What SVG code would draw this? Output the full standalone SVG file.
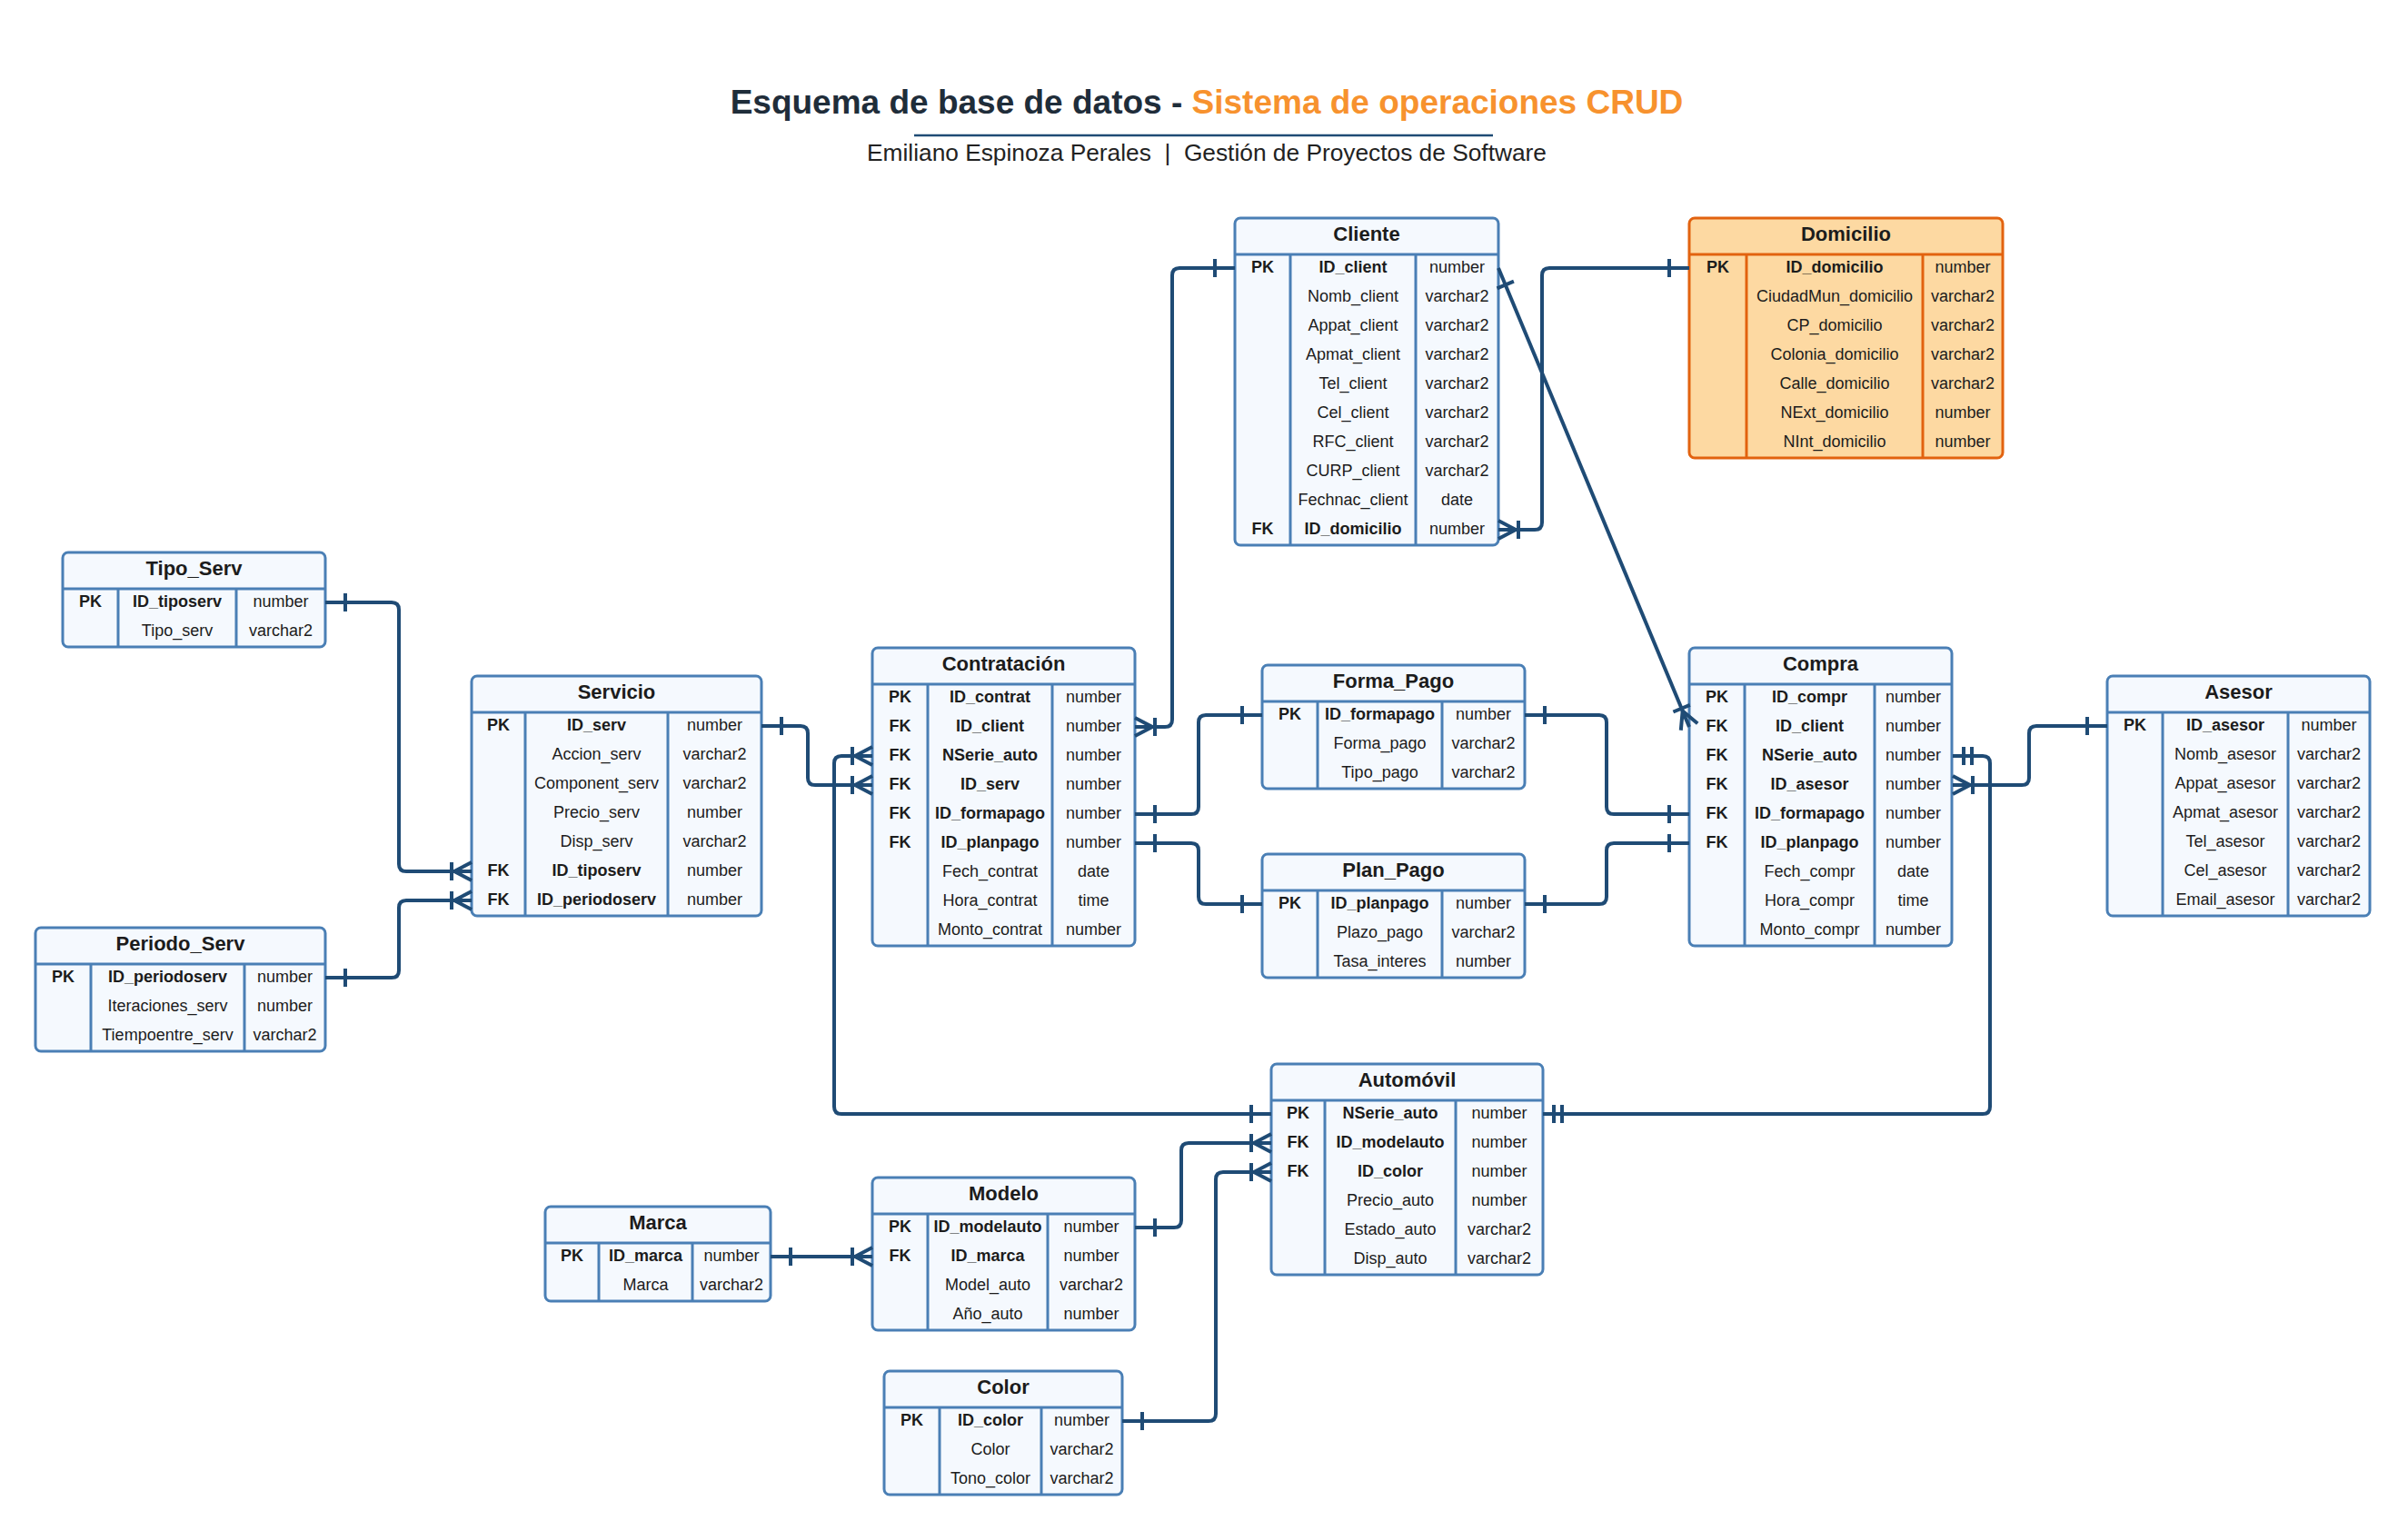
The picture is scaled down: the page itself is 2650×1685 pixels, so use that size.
<svg xmlns="http://www.w3.org/2000/svg" width="2650" height="1685" viewBox="0 0 2650 1685">
<style>
.bg{fill:#ffffff}
.box{fill:#f5f9fe;stroke:#4a7fb5;stroke-width:3}
.sep{stroke:#4a7fb5;stroke-width:3}
.dom .box{fill:#fdd9a2;stroke:#e2620f}
.dom .sep{stroke:#e2620f}
text{font-family:"Liberation Sans",Arial,sans-serif;fill:#1c1c1c}
.hd{font-size:22px;font-weight:bold;text-anchor:middle}
.k{font-size:18px;font-weight:bold;text-anchor:middle}
.b{font-size:18px;font-weight:bold;text-anchor:middle}
.n{font-size:18px;text-anchor:middle}
.cn{fill:none;stroke:#1f4b75;stroke-width:4;stroke-linejoin:round;stroke-linecap:butt}
.mk{fill:none;stroke:#1f4b75;stroke-width:4}
.title{font-size:37px;font-weight:bold;text-anchor:middle;fill:#1f2d3a}
.sub{font-size:26.3px;text-anchor:middle;fill:#222}
</style>
<rect class="bg" x="0" y="0" width="2650" height="1685"/>

<g id="title">
<text class="title" x="1328" y="125">Esquema de base de datos - <tspan fill="#f7922e">Sistema de operaciones CRUD</tspan></text>
<line x1="1006" y1="149" x2="1643" y2="149" stroke="#1f4b75" stroke-width="2.5"/>
<text class="sub" x="1328" y="177" xml:space="preserve">Emiliano Espinoza Perales  |  Gestión de Proyectos de Software</text>
</g>

<g id="cliente">
<rect class="box" x="1359" y="240" width="290" height="360" rx="6"/>
<line class="sep" x1="1359" y1="280" x2="1649" y2="280"/>
<line class="sep" x1="1420" y1="280" x2="1420" y2="600"/>
<line class="sep" x1="1558" y1="280" x2="1558" y2="600"/>
<text class="hd" x="1504" y="265">Cliente</text>
<text class="k" x="1389.5" y="300">PK</text><text class="b" x="1489" y="300">ID_client</text><text class="n" x="1603.5" y="300">number</text>
<text class="n" x="1489" y="332">Nomb_client</text><text class="n" x="1603.5" y="332">varchar2</text>
<text class="n" x="1489" y="364">Appat_client</text><text class="n" x="1603.5" y="364">varchar2</text>
<text class="n" x="1489" y="396">Apmat_client</text><text class="n" x="1603.5" y="396">varchar2</text>
<text class="n" x="1489" y="428">Tel_client</text><text class="n" x="1603.5" y="428">varchar2</text>
<text class="n" x="1489" y="460">Cel_client</text><text class="n" x="1603.5" y="460">varchar2</text>
<text class="n" x="1489" y="492">RFC_client</text><text class="n" x="1603.5" y="492">varchar2</text>
<text class="n" x="1489" y="524">CURP_client</text><text class="n" x="1603.5" y="524">varchar2</text>
<text class="n" x="1489" y="556">Fechnac_client</text><text class="n" x="1603.5" y="556">date</text>
<text class="k" x="1389.5" y="588">FK</text><text class="b" x="1489" y="588">ID_domicilio</text><text class="n" x="1603.5" y="588">number</text>
</g>

<g id="domicilio" class="dom">
<rect class="box" x="1859" y="240" width="345" height="264" rx="6"/>
<line class="sep" x1="1859" y1="280" x2="2204" y2="280"/>
<line class="sep" x1="1922" y1="280" x2="1922" y2="504"/>
<line class="sep" x1="2116" y1="280" x2="2116" y2="504"/>
<text class="hd" x="2031.5" y="265">Domicilio</text>
<text class="k" x="1890.5" y="300">PK</text><text class="b" x="2019" y="300">ID_domicilio</text><text class="n" x="2160" y="300">number</text>
<text class="n" x="2019" y="332">CiudadMun_domicilio</text><text class="n" x="2160" y="332">varchar2</text>
<text class="n" x="2019" y="364">CP_domicilio</text><text class="n" x="2160" y="364">varchar2</text>
<text class="n" x="2019" y="396">Colonia_domicilio</text><text class="n" x="2160" y="396">varchar2</text>
<text class="n" x="2019" y="428">Calle_domicilio</text><text class="n" x="2160" y="428">varchar2</text>
<text class="n" x="2019" y="460">NExt_domicilio</text><text class="n" x="2160" y="460">number</text>
<text class="n" x="2019" y="492">NInt_domicilio</text><text class="n" x="2160" y="492">number</text>
</g>

<g id="tipo_serv">
<rect class="box" x="69" y="608" width="289" height="104" rx="6"/>
<line class="sep" x1="69" y1="648" x2="358" y2="648"/>
<line class="sep" x1="130" y1="648" x2="130" y2="712"/>
<line class="sep" x1="260" y1="648" x2="260" y2="712"/>
<text class="hd" x="213.5" y="633">Tipo_Serv</text>
<text class="k" x="99.5" y="668">PK</text><text class="b" x="195" y="668">ID_tiposerv</text><text class="n" x="309" y="668">number</text>
<text class="n" x="195" y="700">Tipo_serv</text><text class="n" x="309" y="700">varchar2</text>
</g>

<g id="periodo_serv">
<rect class="box" x="39" y="1021" width="319" height="136" rx="6"/>
<line class="sep" x1="39" y1="1061" x2="358" y2="1061"/>
<line class="sep" x1="100" y1="1061" x2="100" y2="1157"/>
<line class="sep" x1="269" y1="1061" x2="269" y2="1157"/>
<text class="hd" x="198.5" y="1046">Periodo_Serv</text>
<text class="k" x="69.5" y="1081">PK</text><text class="b" x="184.5" y="1081">ID_periodoserv</text><text class="n" x="313.5" y="1081">number</text>
<text class="n" x="184.5" y="1113">Iteraciones_serv</text><text class="n" x="313.5" y="1113">number</text>
<text class="n" x="184.5" y="1145">Tiempoentre_serv</text><text class="n" x="313.5" y="1145">varchar2</text>
</g>

<g id="servicio">
<rect class="box" x="519" y="744" width="319" height="264" rx="6"/>
<line class="sep" x1="519" y1="784" x2="838" y2="784"/>
<line class="sep" x1="578" y1="784" x2="578" y2="1008"/>
<line class="sep" x1="735" y1="784" x2="735" y2="1008"/>
<text class="hd" x="678.5" y="769">Servicio</text>
<text class="k" x="548.5" y="804">PK</text><text class="b" x="656.5" y="804">ID_serv</text><text class="n" x="786.5" y="804">number</text>
<text class="n" x="656.5" y="836">Accion_serv</text><text class="n" x="786.5" y="836">varchar2</text>
<text class="n" x="656.5" y="868">Component_serv</text><text class="n" x="786.5" y="868">varchar2</text>
<text class="n" x="656.5" y="900">Precio_serv</text><text class="n" x="786.5" y="900">number</text>
<text class="n" x="656.5" y="932">Disp_serv</text><text class="n" x="786.5" y="932">varchar2</text>
<text class="k" x="548.5" y="964">FK</text><text class="b" x="656.5" y="964">ID_tiposerv</text><text class="n" x="786.5" y="964">number</text>
<text class="k" x="548.5" y="996">FK</text><text class="b" x="656.5" y="996">ID_periodoserv</text><text class="n" x="786.5" y="996">number</text>
</g>

<g id="contratacion">
<rect class="box" x="960" y="713" width="289" height="328" rx="6"/>
<line class="sep" x1="960" y1="753" x2="1249" y2="753"/>
<line class="sep" x1="1021" y1="753" x2="1021" y2="1041"/>
<line class="sep" x1="1158" y1="753" x2="1158" y2="1041"/>
<text class="hd" x="1104.5" y="738">Contratación</text>
<text class="k" x="990.5" y="773">PK</text><text class="b" x="1089.5" y="773">ID_contrat</text><text class="n" x="1203.5" y="773">number</text>
<text class="k" x="990.5" y="805">FK</text><text class="b" x="1089.5" y="805">ID_client</text><text class="n" x="1203.5" y="805">number</text>
<text class="k" x="990.5" y="837">FK</text><text class="b" x="1089.5" y="837">NSerie_auto</text><text class="n" x="1203.5" y="837">number</text>
<text class="k" x="990.5" y="869">FK</text><text class="b" x="1089.5" y="869">ID_serv</text><text class="n" x="1203.5" y="869">number</text>
<text class="k" x="990.5" y="901">FK</text><text class="b" x="1089.5" y="901">ID_formapago</text><text class="n" x="1203.5" y="901">number</text>
<text class="k" x="990.5" y="933">FK</text><text class="b" x="1089.5" y="933">ID_planpago</text><text class="n" x="1203.5" y="933">number</text>
<text class="n" x="1089.5" y="965">Fech_contrat</text><text class="n" x="1203.5" y="965">date</text>
<text class="n" x="1089.5" y="997">Hora_contrat</text><text class="n" x="1203.5" y="997">time</text>
<text class="n" x="1089.5" y="1029">Monto_contrat</text><text class="n" x="1203.5" y="1029">number</text>
</g>

<g id="forma_pago">
<rect class="box" x="1389" y="732" width="289" height="136" rx="6"/>
<line class="sep" x1="1389" y1="772" x2="1678" y2="772"/>
<line class="sep" x1="1450" y1="772" x2="1450" y2="868"/>
<line class="sep" x1="1587" y1="772" x2="1587" y2="868"/>
<text class="hd" x="1533.5" y="757">Forma_Pago</text>
<text class="k" x="1419.5" y="792">PK</text><text class="b" x="1518.5" y="792">ID_formapago</text><text class="n" x="1632.5" y="792">number</text>
<text class="n" x="1518.5" y="824">Forma_pago</text><text class="n" x="1632.5" y="824">varchar2</text>
<text class="n" x="1518.5" y="856">Tipo_pago</text><text class="n" x="1632.5" y="856">varchar2</text>
</g>

<g id="plan_pago">
<rect class="box" x="1389" y="940" width="289" height="136" rx="6"/>
<line class="sep" x1="1389" y1="980" x2="1678" y2="980"/>
<line class="sep" x1="1450" y1="980" x2="1450" y2="1076"/>
<line class="sep" x1="1587" y1="980" x2="1587" y2="1076"/>
<text class="hd" x="1533.5" y="965">Plan_Pago</text>
<text class="k" x="1419.5" y="1000">PK</text><text class="b" x="1518.5" y="1000">ID_planpago</text><text class="n" x="1632.5" y="1000">number</text>
<text class="n" x="1518.5" y="1032">Plazo_pago</text><text class="n" x="1632.5" y="1032">varchar2</text>
<text class="n" x="1518.5" y="1064">Tasa_interes</text><text class="n" x="1632.5" y="1064">number</text>
</g>

<g id="compra">
<rect class="box" x="1859" y="713" width="289" height="328" rx="6"/>
<line class="sep" x1="1859" y1="753" x2="2148" y2="753"/>
<line class="sep" x1="1920" y1="753" x2="1920" y2="1041"/>
<line class="sep" x1="2063" y1="753" x2="2063" y2="1041"/>
<text class="hd" x="2003.5" y="738">Compra</text>
<text class="k" x="1889.5" y="773">PK</text><text class="b" x="1991.5" y="773">ID_compr</text><text class="n" x="2105.5" y="773">number</text>
<text class="k" x="1889.5" y="805">FK</text><text class="b" x="1991.5" y="805">ID_client</text><text class="n" x="2105.5" y="805">number</text>
<text class="k" x="1889.5" y="837">FK</text><text class="b" x="1991.5" y="837">NSerie_auto</text><text class="n" x="2105.5" y="837">number</text>
<text class="k" x="1889.5" y="869">FK</text><text class="b" x="1991.5" y="869">ID_asesor</text><text class="n" x="2105.5" y="869">number</text>
<text class="k" x="1889.5" y="901">FK</text><text class="b" x="1991.5" y="901">ID_formapago</text><text class="n" x="2105.5" y="901">number</text>
<text class="k" x="1889.5" y="933">FK</text><text class="b" x="1991.5" y="933">ID_planpago</text><text class="n" x="2105.5" y="933">number</text>
<text class="n" x="1991.5" y="965">Fech_compr</text><text class="n" x="2105.5" y="965">date</text>
<text class="n" x="1991.5" y="997">Hora_compr</text><text class="n" x="2105.5" y="997">time</text>
<text class="n" x="1991.5" y="1029">Monto_compr</text><text class="n" x="2105.5" y="1029">number</text>
</g>

<g id="asesor">
<rect class="box" x="2319" y="744" width="289" height="264" rx="6"/>
<line class="sep" x1="2319" y1="784" x2="2608" y2="784"/>
<line class="sep" x1="2380" y1="784" x2="2380" y2="1008"/>
<line class="sep" x1="2518" y1="784" x2="2518" y2="1008"/>
<text class="hd" x="2463.5" y="769">Asesor</text>
<text class="k" x="2349.5" y="804">PK</text><text class="b" x="2449" y="804">ID_asesor</text><text class="n" x="2563" y="804">number</text>
<text class="n" x="2449" y="836">Nomb_asesor</text><text class="n" x="2563" y="836">varchar2</text>
<text class="n" x="2449" y="868">Appat_asesor</text><text class="n" x="2563" y="868">varchar2</text>
<text class="n" x="2449" y="900">Apmat_asesor</text><text class="n" x="2563" y="900">varchar2</text>
<text class="n" x="2449" y="932">Tel_asesor</text><text class="n" x="2563" y="932">varchar2</text>
<text class="n" x="2449" y="964">Cel_asesor</text><text class="n" x="2563" y="964">varchar2</text>
<text class="n" x="2449" y="996">Email_asesor</text><text class="n" x="2563" y="996">varchar2</text>
</g>

<g id="automovil">
<rect class="box" x="1399" y="1171" width="299" height="232" rx="6"/>
<line class="sep" x1="1399" y1="1211" x2="1698" y2="1211"/>
<line class="sep" x1="1458" y1="1211" x2="1458" y2="1403"/>
<line class="sep" x1="1602" y1="1211" x2="1602" y2="1403"/>
<text class="hd" x="1548.5" y="1196">Automóvil</text>
<text class="k" x="1428.5" y="1231">PK</text><text class="b" x="1530" y="1231">NSerie_auto</text><text class="n" x="1650" y="1231">number</text>
<text class="k" x="1428.5" y="1263">FK</text><text class="b" x="1530" y="1263">ID_modelauto</text><text class="n" x="1650" y="1263">number</text>
<text class="k" x="1428.5" y="1295">FK</text><text class="b" x="1530" y="1295">ID_color</text><text class="n" x="1650" y="1295">number</text>
<text class="n" x="1530" y="1327">Precio_auto</text><text class="n" x="1650" y="1327">number</text>
<text class="n" x="1530" y="1359">Estado_auto</text><text class="n" x="1650" y="1359">varchar2</text>
<text class="n" x="1530" y="1391">Disp_auto</text><text class="n" x="1650" y="1391">varchar2</text>
</g>

<g id="marca">
<rect class="box" x="600" y="1328" width="248" height="104" rx="6"/>
<line class="sep" x1="600" y1="1368" x2="848" y2="1368"/>
<line class="sep" x1="659" y1="1368" x2="659" y2="1432"/>
<line class="sep" x1="762" y1="1368" x2="762" y2="1432"/>
<text class="hd" x="724" y="1353">Marca</text>
<text class="k" x="629.5" y="1388">PK</text><text class="b" x="710.5" y="1388">ID_marca</text><text class="n" x="805" y="1388">number</text>
<text class="n" x="710.5" y="1420">Marca</text><text class="n" x="805" y="1420">varchar2</text>
</g>

<g id="modelo">
<rect class="box" x="960" y="1296" width="289" height="168" rx="6"/>
<line class="sep" x1="960" y1="1336" x2="1249" y2="1336"/>
<line class="sep" x1="1021" y1="1336" x2="1021" y2="1464"/>
<line class="sep" x1="1153" y1="1336" x2="1153" y2="1464"/>
<text class="hd" x="1104.5" y="1321">Modelo</text>
<text class="k" x="990.5" y="1356">PK</text><text class="b" x="1087" y="1356">ID_modelauto</text><text class="n" x="1201" y="1356">number</text>
<text class="k" x="990.5" y="1388">FK</text><text class="b" x="1087" y="1388">ID_marca</text><text class="n" x="1201" y="1388">number</text>
<text class="n" x="1087" y="1420">Model_auto</text><text class="n" x="1201" y="1420">varchar2</text>
<text class="n" x="1087" y="1452">Año_auto</text><text class="n" x="1201" y="1452">number</text>
</g>

<g id="color">
<rect class="box" x="973" y="1509" width="262" height="136" rx="6"/>
<line class="sep" x1="973" y1="1549" x2="1235" y2="1549"/>
<line class="sep" x1="1034" y1="1549" x2="1034" y2="1645"/>
<line class="sep" x1="1146" y1="1549" x2="1146" y2="1645"/>
<text class="hd" x="1104" y="1534">Color</text>
<text class="k" x="1003.5" y="1569">PK</text><text class="b" x="1090" y="1569">ID_color</text><text class="n" x="1190.5" y="1569">number</text>
<text class="n" x="1090" y="1601">Color</text><text class="n" x="1190.5" y="1601">varchar2</text>
<text class="n" x="1090" y="1633">Tono_color</text><text class="n" x="1190.5" y="1633">varchar2</text>
</g>

<g id="connectors">
<path class="cn" d="M1359,295 H1298 Q1290,295 1290,303 V792 Q1290,800 1282,800 H1249"/>
<path class="mk" d="M1337,285 V305 M1249,790 L1268,800 L1249,810 M1271,790 V810"/>

<path class="cn" d="M1649,583 H1689 Q1697,583 1697,575 V303 Q1697,295 1705,295 H1859"/>
<path class="mk" d="M1837,285 V305 M1649,573 L1668,583 L1649,593 M1671,573 V593"/>

<path class="cn" d="M1649,295 L1859,800"/>
<path class="mk" d="M1665.9,309.7 L1647.5,317.3 M1868.2,796.2 L1851.7,782.5 L1849.8,803.8 M1859.8,775.9 L1841.4,783.5"/>

<path class="cn" d="M838,799 H881 Q889,799 889,807 V856 Q889,864 897,864 H960"/>
<path class="mk" d="M860,789 V809 M960,854 L941,864 L960,874 M938,854 V874"/>

<path class="cn" d="M1399,1226 H926 Q918,1226 918,1218 V840 Q918,832 926,832 H960"/>
<path class="mk" d="M1377,1216 V1236 M960,822 L941,832 L960,842 M938,822 V842"/>

<path class="cn" d="M1698,1226 H2182 Q2190,1226 2190,1218 V840 Q2190,832 2182,832 H2149"/>
<path class="mk" d="M1710,1216 V1236 M1719,1216 V1236 M2161,822 V842 M2170,822 V842"/>

<path class="cn" d="M2319,799 H2241 Q2233,799 2233,807 V856 Q2233,864 2225,864 H2149"/>
<path class="mk" d="M2297,789 V809 M2149,854 L2168,864 L2149,874 M2171,854 V874"/>

<path class="cn" d="M1249,896 H1311 Q1319,896 1319,888 V795 Q1319,787 1327,787 H1389"/>
<path class="mk" d="M1271,886 V906 M1367,777 V797"/>

<path class="cn" d="M1249,928 H1311 Q1319,928 1319,936 V987 Q1319,995 1327,995 H1389"/>
<path class="mk" d="M1271,918 V938 M1367,985 V1005"/>

<path class="cn" d="M1678,787 H1760 Q1768,787 1768,795 V888 Q1768,896 1776,896 H1859"/>
<path class="mk" d="M1700,777 V797 M1837,886 V906"/>

<path class="cn" d="M1678,995 H1760 Q1768,995 1768,987 V936 Q1768,928 1776,928 H1859"/>
<path class="mk" d="M1700,985 V1005 M1837,918 V938"/>

<path class="cn" d="M358,663 H431 Q439,663 439,671 V951 Q439,959 447,959 H519"/>
<path class="mk" d="M380,653 V673 M519,949 L500,959 L519,969 M497,949 V969"/>

<path class="cn" d="M358,1076 H431 Q439,1076 439,1068 V999 Q439,991 447,991 H519"/>
<path class="mk" d="M380,1066 V1086 M519,981 L500,991 L519,1001 M497,981 V1001"/>

<path class="cn" d="M848,1383 H960"/>
<path class="mk" d="M870,1373 V1393 M960,1373 L941,1383 L960,1393 M938,1373 V1393"/>

<path class="cn" d="M1249,1351 H1292 Q1300,1351 1300,1343 V1266 Q1300,1258 1308,1258 H1399"/>
<path class="mk" d="M1271,1341 V1361 M1399,1248 L1380,1258 L1399,1268 M1377,1248 V1268"/>

<path class="cn" d="M1235,1564 H1330 Q1338,1564 1338,1556 V1298 Q1338,1290 1346,1290 H1399"/>
<path class="mk" d="M1257,1554 V1574 M1399,1280 L1380,1290 L1399,1300 M1377,1280 V1300"/>
</g>
</svg>
